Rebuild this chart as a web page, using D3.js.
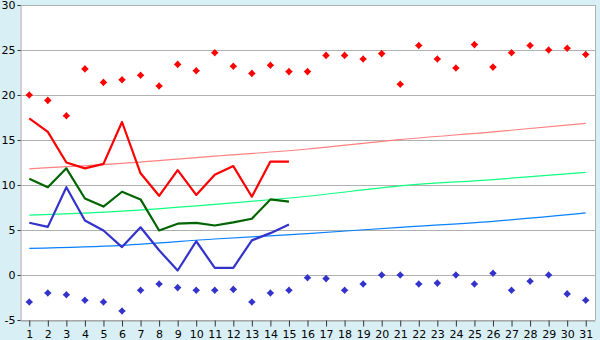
<!DOCTYPE html>
<html><head><meta charset="utf-8">
<script src="https://cdn.jsdelivr.net/npm/d3@7"></script>
<style>
html,body{margin:0;padding:0;background:#d8eff5;}
svg{display:block;}
text{font-family:"DejaVu Sans",Verdana,sans-serif;font-size:11px;fill:#000;}
</style></head>
<body><svg id="c" width="600" height="340"></svg>
<script>
const days = d3.range(1, 32);
const yTicks = [-5, 0, 5, 10, 15, 20, 25, 30];
const maxPoints = [20.0,19.4,17.7,22.9,21.4,21.7,22.2,21.0,23.4,22.7,24.7,23.2,22.4,23.3,22.6,22.6,24.4,24.4,24.0,24.6,21.2,25.5,24.0,23.0,25.6,23.1,24.7,25.5,25.0,25.2,24.5];
const minPoints = [-3.0,-2.0,-2.2,-2.8,-3.0,-4.0,-1.7,-1.0,-1.4,-1.7,-1.7,-1.6,-3.0,-2.0,-1.7,-0.3,-0.4,-1.7,-1.0,0.0,0.0,-1.0,-0.9,0.0,-1.0,0.2,-1.7,-0.7,0.0,-2.1,-2.8];
const redLine = [17.4,15.9,12.5,11.85,12.35,17.0,11.3,8.8,11.65,8.9,11.15,12.1,8.7,12.6,12.6];
const greenLine = [10.7,9.75,11.85,8.5,7.6,9.25,8.4,4.95,5.7,5.8,5.5,5.85,6.25,8.4,8.15];
const blueLine = [5.8,5.35,9.75,6.05,4.95,3.1,5.3,2.75,0.5,3.75,0.8,0.8,3.85,4.65,5.6];
const trendDays = [1, 6, 11, 16, 21, 26, 31];
const normalMax = [11.8, 12.4, 13.2, 14.0, 15.05, 15.9, 16.85];
const normalMid = [6.65, 7.1, 7.85, 8.75, 9.9, 10.6, 11.4];
const normalMin = [2.96, 3.3, 4.0, 4.6, 5.3, 5.96, 6.9];

const svg = d3.select("#c");
const L = 20, R = 595, T = 5, B = 320;
const x = d3.scaleLinear().domain([0.5, 31.5]).range([L, R]);
const y = d3.scaleLinear().domain([-5, 30]).range([B, T]);

svg.append("rect").attr("x", L).attr("y", T).attr("width", R - L).attr("height", B - T).attr("fill", "#fff");

// grid
svg.append("g").selectAll("line").data(yTicks).join("line")
  .attr("x1", L).attr("x2", R).attr("y1", d => Math.round(y(d)) + 0.5).attr("y2", d => Math.round(y(d)) + 0.5)
  .attr("stroke", "#b0b0b0").attr("shape-rendering", "crispEdges");
// right border
svg.append("line").attr("x1", R + 0.5).attr("x2", R + 0.5).attr("y1", T).attr("y2", B)
  .attr("stroke", "#b0b0b0").attr("shape-rendering", "crispEdges");

// axes
const yAxis = d3.axisLeft(y).tickValues(yTicks).tickSize(3).tickPadding(2)
  .tickFormat(d => (d < 0 ? "-" + (-d) : String(d)));
const gy = svg.append("g").attr("transform", `translate(${L + 0.5},0)`).call(yAxis);
gy.select(".domain").attr("stroke", "#a0a0a0");
gy.selectAll(".tick line").attr("stroke", "#333");
gy.selectAll("text").attr("font-size", 11).attr("font-family", "DejaVu Sans, Verdana, sans-serif").attr("fill", "#000");

const xAxis = d3.axisBottom(x).tickValues(days).tickFormat(d3.format("d")).tickSize(6).tickPadding(4).tickSizeOuter(0);
const gx = svg.append("g").attr("transform", `translate(0,${B + 0.5})`).call(xAxis);
gx.select(".domain").attr("stroke", "#a0a0a0");
gx.selectAll(".tick line").attr("stroke", "#333");
gx.selectAll("text").attr("font-size", 11).attr("font-family", "DejaVu Sans, Verdana, sans-serif").attr("fill", "#000");

// trend lines
const trend = (vals, color) => svg.append("path")
  .datum(trendDays.map((d, i) => [d, vals[i]]))
  .attr("d", d3.line().x(d => x(d[0])).y(d => y(d[1])).curve(d3.curveMonotoneX))
  .attr("fill", "none").attr("stroke", color).attr("stroke-width", 1.2);
trend(normalMax, "#ff8080");
trend(normalMid, "#10ff80");
trend(normalMin, "#0a80ff");

// main lines
const mline = (vals, color) => svg.append("path")
  .datum(vals.map((v, i) => [i + 1, v]))
  .attr("d", d3.line().x(d => x(d[0])).y(d => y(d[1])))
  .attr("fill", "none").attr("stroke", color).attr("stroke-width", 2.2).attr("stroke-linejoin", "round");
mline(redLine, "#ff0000");
mline(greenLine, "#006400");
mline(blueLine, "#3333cc");

// markers
const pts = (vals, color) => svg.append("g").selectAll("path").data(vals).join("path")
  .attr("transform", (d, i) => `translate(${x(i + 1)},${y(d)})`)
  .attr("d", "M0,-3.8L1.8,-1.8L3.8,0L1.8,1.8L0,3.8L-1.8,1.8L-3.8,0L-1.8,-1.8Z")
  .attr("fill", color);
pts(maxPoints, "#ff0000");
pts(minPoints, "#3333cc");
</script></body></html>
